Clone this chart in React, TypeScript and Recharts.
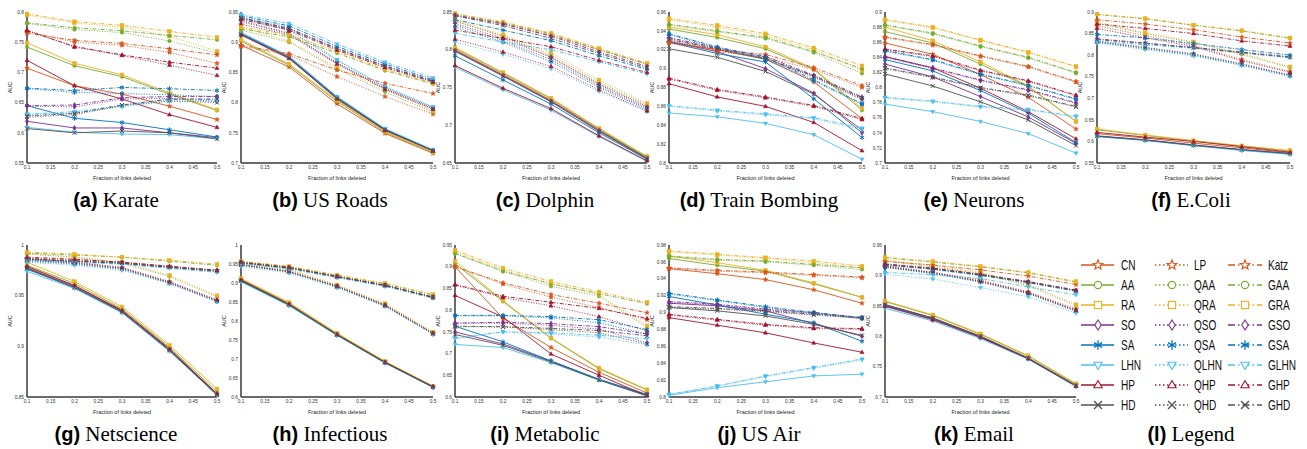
import React from 'react';
import { LineChart, Line, XAxis, YAxis } from 'recharts';

const fractions = [0.1, 0.2, 0.3, 0.4, 0.5];
const xTicks = [0.1, 0.15, 0.2, 0.25, 0.3, 0.35, 0.4, 0.45, 0.5];

const classicNames = ['CN', 'AA', 'RA', 'SO', 'SA', 'LHN', 'HP', 'HD'];
const quantumNames = ['LP', 'QAA', 'QRA', 'QSO', 'QSA', 'QLHN', 'QHP', 'QHD'];
const globalNames = ['Katz', 'GAA', 'GRA', 'GSO', 'GSA', 'GLHN', 'GHP', 'GHD'];

const familyColors = ['#D95319', '#77AC30', '#EDB120', '#7E2F8E', '#0072BD', '#4DBEEE', '#A2142F', '#505050'];
const familyShapes = ['star', 'circle', 'square', 'diamond', 'asterisk', 'tridown', 'triup', 'cross'];

// ---------------- data (AUC values at fractions 0.1..0.5) ----------------
const karate: Record<string, number[]> = {
  CN: [0.707, 0.678, 0.664, 0.644, 0.622], AA: [0.742, 0.711, 0.693, 0.664, 0.637], RA: [0.749, 0.715, 0.696, 0.666, 0.638],
  SO: [0.619, 0.608, 0.608, 0.600, 0.592], SA: [0.645, 0.624, 0.617, 0.605, 0.593], LHN: [0.609, 0.601, 0.598, 0.597, 0.590],
  HP: [0.720, 0.678, 0.656, 0.630, 0.609], HD: [0.607, 0.600, 0.603, 0.600, 0.590],
  LP: [0.768, 0.750, 0.745, 0.733, 0.715], QAA: [0.781, 0.771, 0.766, 0.752, 0.732], QRA: [0.795, 0.782, 0.775, 0.760, 0.735],
  QSO: [0.644, 0.643, 0.656, 0.657, 0.652], QSA: [0.673, 0.667, 0.665, 0.663, 0.660], QLHN: [0.630, 0.633, 0.643, 0.652, 0.652],
  QHP: [0.770, 0.742, 0.728, 0.712, 0.695], QHD: [0.626, 0.630, 0.645, 0.653, 0.650],
  Katz: [0.765, 0.753, 0.748, 0.739, 0.729], GAA: [0.782, 0.774, 0.769, 0.761, 0.754], GRA: [0.797, 0.784, 0.778, 0.768, 0.758],
  GSO: [0.645, 0.646, 0.658, 0.660, 0.660], GSA: [0.674, 0.670, 0.675, 0.673, 0.670], GLHN: [0.631, 0.635, 0.645, 0.655, 0.655],
  GHP: [0.769, 0.743, 0.729, 0.717, 0.707], GHD: [0.628, 0.632, 0.646, 0.656, 0.656],
};
const usRoads: Record<string, number[]> = {
  CN: [0.895, 0.859, 0.798, 0.749, 0.716], AA: [0.902, 0.862, 0.802, 0.751, 0.717], RA: [0.904, 0.864, 0.804, 0.752, 0.718],
  SO: [0.914, 0.875, 0.808, 0.755, 0.721], SA: [0.915, 0.876, 0.809, 0.756, 0.721], LHN: [0.916, 0.877, 0.810, 0.757, 0.722],
  HP: [0.912, 0.873, 0.806, 0.754, 0.720], HD: [0.913, 0.874, 0.807, 0.755, 0.720],
  LP: [0.893, 0.879, 0.843, 0.810, 0.781], QAA: [0.920, 0.900, 0.855, 0.818, 0.784], QRA: [0.925, 0.902, 0.858, 0.822, 0.786],
  QSO: [0.936, 0.915, 0.866, 0.824, 0.790], QSA: [0.940, 0.920, 0.870, 0.826, 0.792], QLHN: [0.942, 0.925, 0.871, 0.827, 0.793],
  QHP: [0.930, 0.912, 0.864, 0.822, 0.789], QHD: [0.934, 0.914, 0.865, 0.823, 0.790],
  Katz: [0.895, 0.881, 0.854, 0.832, 0.815], GAA: [0.922, 0.909, 0.882, 0.853, 0.831], GRA: [0.925, 0.912, 0.885, 0.855, 0.832],
  GSO: [0.941, 0.923, 0.890, 0.861, 0.836], GSA: [0.944, 0.927, 0.893, 0.864, 0.838], GLHN: [0.946, 0.931, 0.897, 0.867, 0.841],
  GHP: [0.938, 0.920, 0.887, 0.858, 0.834], GHD: [0.940, 0.922, 0.889, 0.860, 0.835],
};
const dolphin: Record<string, number[]> = {
  CN: [0.800, 0.767, 0.733, 0.694, 0.657], AA: [0.802, 0.769, 0.735, 0.695, 0.658], RA: [0.803, 0.770, 0.736, 0.696, 0.659],
  SO: [0.799, 0.766, 0.732, 0.693, 0.656], SA: [0.792, 0.760, 0.728, 0.690, 0.655], LHN: [0.777, 0.747, 0.720, 0.685, 0.652],
  HP: [0.779, 0.749, 0.722, 0.686, 0.653], HD: [0.798, 0.765, 0.731, 0.692, 0.656],
  LP: [0.838, 0.818, 0.790, 0.755, 0.725], QAA: [0.838, 0.818, 0.793, 0.757, 0.727], QRA: [0.840, 0.820, 0.796, 0.760, 0.729],
  QSO: [0.835, 0.815, 0.790, 0.754, 0.724], QSA: [0.830, 0.810, 0.784, 0.750, 0.721], QLHN: [0.810, 0.794, 0.775, 0.745, 0.718],
  QHP: [0.814, 0.797, 0.778, 0.747, 0.719], QHD: [0.833, 0.812, 0.787, 0.752, 0.722],
  Katz: [0.845, 0.835, 0.819, 0.800, 0.781], GAA: [0.847, 0.836, 0.821, 0.800, 0.781], GRA: [0.848, 0.837, 0.822, 0.802, 0.782],
  GSO: [0.846, 0.834, 0.818, 0.797, 0.778], GSA: [0.840, 0.826, 0.812, 0.792, 0.774], GLHN: [0.822, 0.810, 0.800, 0.784, 0.768],
  GHP: [0.826, 0.815, 0.804, 0.786, 0.770], GHD: [0.845, 0.832, 0.815, 0.795, 0.776],
};
const trainBombing: Record<string, number[]> = {
  CN: [0.928, 0.920, 0.910, 0.886, 0.847], AA: [0.942, 0.933, 0.921, 0.899, 0.856], RA: [0.944, 0.936, 0.923, 0.900, 0.858],
  SO: [0.929, 0.918, 0.900, 0.874, 0.832], SA: [0.928, 0.916, 0.907, 0.868, 0.827], LHN: [0.853, 0.849, 0.842, 0.830, 0.804],
  HP: [0.884, 0.870, 0.860, 0.843, 0.813], HD: [0.921, 0.912, 0.897, 0.873, 0.835],
  LP: [0.927, 0.918, 0.912, 0.899, 0.880], QAA: [0.946, 0.939, 0.932, 0.917, 0.895], QRA: [0.952, 0.944, 0.935, 0.920, 0.898],
  QSO: [0.932, 0.921, 0.911, 0.892, 0.868], QSA: [0.936, 0.922, 0.910, 0.887, 0.862], QLHN: [0.860, 0.855, 0.851, 0.847, 0.835],
  QHP: [0.889, 0.877, 0.869, 0.860, 0.846], QHD: [0.930, 0.920, 0.910, 0.891, 0.867],
  Katz: [0.928, 0.920, 0.915, 0.901, 0.882], GAA: [0.947, 0.940, 0.933, 0.918, 0.900], GRA: [0.953, 0.946, 0.937, 0.922, 0.903],
  GSO: [0.933, 0.922, 0.913, 0.893, 0.870], GSA: [0.937, 0.923, 0.912, 0.888, 0.863], GLHN: [0.861, 0.856, 0.852, 0.848, 0.837],
  GHP: [0.890, 0.878, 0.870, 0.861, 0.847], GHD: [0.931, 0.921, 0.911, 0.892, 0.869],
};
const neurons: Record<string, number[]> = {
  CN: [0.859, 0.844, 0.817, 0.787, 0.745], AA: [0.874, 0.859, 0.831, 0.801, 0.755], RA: [0.880, 0.862, 0.834, 0.802, 0.755],
  SO: [0.831, 0.814, 0.788, 0.761, 0.726], SA: [0.837, 0.822, 0.796, 0.766, 0.727], LHN: [0.778, 0.768, 0.755, 0.739, 0.713],
  HP: [0.841, 0.826, 0.799, 0.768, 0.732], HD: [0.818, 0.802, 0.781, 0.757, 0.723],
  LP: [0.866, 0.856, 0.841, 0.827, 0.807], QAA: [0.882, 0.871, 0.854, 0.839, 0.819], QRA: [0.889, 0.879, 0.862, 0.846, 0.827],
  QSO: [0.840, 0.825, 0.809, 0.796, 0.779], QSA: [0.848, 0.836, 0.817, 0.802, 0.784], QLHN: [0.786, 0.781, 0.774, 0.770, 0.761],
  QHP: [0.850, 0.841, 0.822, 0.808, 0.789], QHD: [0.825, 0.813, 0.799, 0.789, 0.774],
  Katz: [0.867, 0.857, 0.842, 0.828, 0.808], GAA: [0.883, 0.872, 0.855, 0.840, 0.820], GRA: [0.890, 0.880, 0.863, 0.847, 0.828],
  GSO: [0.841, 0.826, 0.810, 0.797, 0.780], GSA: [0.849, 0.837, 0.818, 0.803, 0.785], GLHN: [0.787, 0.782, 0.775, 0.771, 0.762],
  GHP: [0.851, 0.842, 0.823, 0.809, 0.790], GHD: [0.826, 0.814, 0.800, 0.790, 0.775],
};
const ecoli: Record<string, number[]> = {
  CN: [0.618, 0.608, 0.596, 0.585, 0.574], AA: [0.627, 0.614, 0.601, 0.589, 0.578], RA: [0.629, 0.615, 0.602, 0.590, 0.579],
  SO: [0.613, 0.604, 0.592, 0.581, 0.572], SA: [0.612, 0.603, 0.591, 0.580, 0.571], LHN: [0.611, 0.602, 0.590, 0.579, 0.570],
  HP: [0.621, 0.610, 0.600, 0.588, 0.575], HD: [0.612, 0.603, 0.591, 0.581, 0.572],
  LP: [0.868, 0.845, 0.823, 0.790, 0.762], QAA: [0.874, 0.850, 0.829, 0.802, 0.771], QRA: [0.877, 0.852, 0.831, 0.804, 0.773],
  QSO: [0.832, 0.818, 0.803, 0.780, 0.754], QSA: [0.830, 0.815, 0.800, 0.777, 0.752], QLHN: [0.828, 0.813, 0.798, 0.776, 0.750],
  QHP: [0.862, 0.840, 0.820, 0.787, 0.760], QHD: [0.831, 0.817, 0.802, 0.779, 0.753],
  Katz: [0.882, 0.872, 0.859, 0.842, 0.828], GAA: [0.894, 0.884, 0.869, 0.856, 0.839], GRA: [0.895, 0.885, 0.870, 0.857, 0.840],
  GSO: [0.838, 0.828, 0.818, 0.807, 0.796], GSA: [0.848, 0.840, 0.827, 0.813, 0.800], GLHN: [0.832, 0.824, 0.816, 0.805, 0.794],
  GHP: [0.872, 0.862, 0.850, 0.833, 0.821], GHD: [0.836, 0.827, 0.817, 0.806, 0.795],
};
const netscience: Record<string, number[]> = {
  CN: [0.978, 0.960, 0.936, 0.898, 0.853], AA: [0.980, 0.962, 0.937, 0.899, 0.855], RA: [0.983, 0.964, 0.939, 0.901, 0.858],
  SO: [0.977, 0.959, 0.935, 0.897, 0.853], SA: [0.976, 0.958, 0.934, 0.896, 0.852], LHN: [0.974, 0.957, 0.933, 0.895, 0.852],
  HP: [0.979, 0.960, 0.935, 0.897, 0.853], HD: [0.977, 0.958, 0.934, 0.896, 0.852],
  LP: [0.986, 0.983, 0.977, 0.963, 0.945], QAA: [0.991, 0.988, 0.982, 0.969, 0.949], QRA: [0.992, 0.988, 0.983, 0.970, 0.950],
  QSO: [0.985, 0.982, 0.977, 0.963, 0.945], QSA: [0.984, 0.981, 0.976, 0.962, 0.944], QLHN: [0.983, 0.980, 0.975, 0.962, 0.944],
  QHP: [0.987, 0.983, 0.978, 0.964, 0.946], QHD: [0.985, 0.982, 0.977, 0.963, 0.945],
  Katz: [0.987, 0.985, 0.983, 0.979, 0.975], GAA: [0.992, 0.990, 0.988, 0.984, 0.980], GRA: [0.993, 0.991, 0.988, 0.985, 0.981],
  GSO: [0.986, 0.984, 0.982, 0.978, 0.974], GSA: [0.986, 0.984, 0.982, 0.978, 0.975], GLHN: [0.985, 0.983, 0.981, 0.977, 0.973],
  GHP: [0.988, 0.986, 0.983, 0.979, 0.975], GHD: [0.986, 0.984, 0.982, 0.978, 0.974],
};
const infectious: Record<string, number[]> = {
  CN: [0.908, 0.845, 0.765, 0.692, 0.627], AA: [0.910, 0.847, 0.767, 0.693, 0.628], RA: [0.912, 0.849, 0.768, 0.694, 0.629],
  SO: [0.906, 0.843, 0.764, 0.691, 0.626], SA: [0.905, 0.842, 0.763, 0.690, 0.626], LHN: [0.903, 0.840, 0.762, 0.689, 0.625],
  HP: [0.908, 0.844, 0.764, 0.691, 0.627], HD: [0.906, 0.843, 0.764, 0.691, 0.626],
  LP: [0.948, 0.930, 0.890, 0.840, 0.767], QAA: [0.952, 0.935, 0.894, 0.845, 0.770], QRA: [0.953, 0.936, 0.895, 0.846, 0.771],
  QSO: [0.948, 0.930, 0.891, 0.841, 0.767], QSA: [0.947, 0.929, 0.890, 0.840, 0.766], QLHN: [0.944, 0.926, 0.887, 0.838, 0.764],
  QHP: [0.949, 0.931, 0.892, 0.842, 0.768], QHD: [0.948, 0.930, 0.891, 0.841, 0.767],
  Katz: [0.952, 0.940, 0.916, 0.893, 0.861], GAA: [0.956, 0.943, 0.920, 0.898, 0.868], GRA: [0.957, 0.944, 0.921, 0.899, 0.870],
  GSO: [0.954, 0.940, 0.917, 0.894, 0.863], GSA: [0.953, 0.939, 0.916, 0.893, 0.862], GLHN: [0.951, 0.937, 0.914, 0.891, 0.860],
  GHP: [0.955, 0.941, 0.917, 0.894, 0.862], GHD: [0.954, 0.940, 0.917, 0.894, 0.863],
};
const metabolic: Record<string, number[]> = {
  CN: [0.900, 0.781, 0.714, 0.657, 0.609], AA: [0.907, 0.820, 0.735, 0.665, 0.616], RA: [0.913, 0.822, 0.736, 0.667, 0.617],
  SO: [0.750, 0.722, 0.683, 0.640, 0.604], SA: [0.763, 0.727, 0.683, 0.641, 0.606], LHN: [0.721, 0.714, 0.679, 0.639, 0.602],
  HP: [0.834, 0.784, 0.699, 0.650, 0.603], HD: [0.744, 0.719, 0.681, 0.639, 0.603],
  LP: [0.900, 0.860, 0.830, 0.806, 0.778], QAA: [0.930, 0.889, 0.855, 0.832, 0.760], QRA: [0.935, 0.893, 0.860, 0.836, 0.764],
  QSO: [0.770, 0.770, 0.765, 0.756, 0.725], QSA: [0.787, 0.787, 0.782, 0.771, 0.745], QLHN: [0.735, 0.750, 0.745, 0.738, 0.720],
  QHP: [0.858, 0.829, 0.810, 0.785, 0.752], QHD: [0.762, 0.761, 0.755, 0.748, 0.722],
  Katz: [0.900, 0.863, 0.836, 0.816, 0.794], GAA: [0.931, 0.890, 0.861, 0.838, 0.815], GRA: [0.938, 0.897, 0.866, 0.842, 0.818],
  GSO: [0.770, 0.772, 0.769, 0.762, 0.745], GSA: [0.788, 0.788, 0.785, 0.778, 0.755], GLHN: [0.735, 0.750, 0.748, 0.742, 0.734],
  GHP: [0.859, 0.832, 0.818, 0.804, 0.781], GHD: [0.763, 0.762, 0.758, 0.753, 0.741],
};
const usAir: Record<string, number[]> = {
  CN: [0.952, 0.946, 0.939, 0.927, 0.911], AA: [0.964, 0.956, 0.949, 0.934, 0.918], RA: [0.967, 0.959, 0.950, 0.935, 0.918],
  SO: [0.911, 0.908, 0.902, 0.887, 0.872], SA: [0.919, 0.909, 0.898, 0.888, 0.866], LHN: [0.802, 0.811, 0.818, 0.825, 0.827],
  HP: [0.894, 0.885, 0.876, 0.864, 0.853], HD: [0.906, 0.902, 0.896, 0.886, 0.873],
  LP: [0.952, 0.949, 0.947, 0.944, 0.941], QAA: [0.966, 0.962, 0.960, 0.956, 0.951], QRA: [0.972, 0.968, 0.964, 0.959, 0.953],
  QSO: [0.912, 0.909, 0.903, 0.899, 0.893], QSA: [0.922, 0.914, 0.906, 0.899, 0.893], QLHN: [0.803, 0.813, 0.824, 0.834, 0.844],
  QHP: [0.897, 0.891, 0.885, 0.881, 0.880], QHD: [0.906, 0.904, 0.901, 0.897, 0.893],
  Katz: [0.953, 0.950, 0.948, 0.945, 0.942], GAA: [0.967, 0.963, 0.961, 0.957, 0.953], GRA: [0.973, 0.969, 0.965, 0.961, 0.955],
  GSO: [0.913, 0.910, 0.904, 0.900, 0.894], GSA: [0.923, 0.915, 0.907, 0.900, 0.894], GLHN: [0.803, 0.813, 0.825, 0.835, 0.845],
  GHP: [0.898, 0.892, 0.886, 0.882, 0.881], GHD: [0.907, 0.905, 0.902, 0.898, 0.894],
};
const email: Record<string, number[]> = {
  CN: [0.852, 0.830, 0.800, 0.764, 0.719], AA: [0.857, 0.834, 0.803, 0.767, 0.721], RA: [0.858, 0.835, 0.804, 0.768, 0.722],
  SO: [0.851, 0.829, 0.799, 0.763, 0.718], SA: [0.850, 0.828, 0.798, 0.763, 0.718], LHN: [0.846, 0.825, 0.796, 0.762, 0.717],
  HP: [0.849, 0.827, 0.798, 0.763, 0.718], HD: [0.852, 0.830, 0.800, 0.764, 0.719],
  LP: [0.915, 0.905, 0.893, 0.873, 0.845], QAA: [0.924, 0.914, 0.903, 0.883, 0.850], QRA: [0.926, 0.916, 0.905, 0.885, 0.852],
  QSO: [0.914, 0.904, 0.890, 0.871, 0.842], QSA: [0.913, 0.903, 0.889, 0.870, 0.841], QLHN: [0.902, 0.894, 0.880, 0.865, 0.838],
  QHP: [0.916, 0.905, 0.891, 0.872, 0.843], QHD: [0.914, 0.904, 0.890, 0.871, 0.842],
  Katz: [0.923, 0.917, 0.909, 0.899, 0.885], GAA: [0.929, 0.922, 0.914, 0.904, 0.889], GRA: [0.930, 0.923, 0.915, 0.905, 0.890],
  GSO: [0.918, 0.911, 0.901, 0.889, 0.875], GSA: [0.917, 0.910, 0.900, 0.888, 0.874], GLHN: [0.905, 0.901, 0.895, 0.881, 0.868],
  GHP: [0.919, 0.912, 0.902, 0.890, 0.876], GHD: [0.918, 0.911, 0.901, 0.889, 0.875],
};

// y tick labels per panel
const ticksA = [0.55, 0.6, 0.65, 0.7, 0.75, 0.8];
const ticksB = [0.7, 0.75, 0.8, 0.85, 0.9, 0.95];
const ticksC = [0.65, 0.7, 0.75, 0.8, 0.85];
const ticksD = [0.8, 0.82, 0.84, 0.86, 0.88, 0.9, 0.92, 0.94, 0.96];
const ticksE = [0.7, 0.72, 0.74, 0.76, 0.78, 0.8, 0.82, 0.84, 0.86, 0.88, 0.9];
const ticksF = [0.55, 0.6, 0.65, 0.7, 0.75, 0.8, 0.85, 0.9];
const ticksG = [0.85, 0.9, 0.95, 1];
const ticksH = [0.6, 0.65, 0.7, 0.75, 0.8, 0.85, 0.9, 0.95, 1];
const ticksI = [0.6, 0.65, 0.7, 0.75, 0.8, 0.85, 0.9, 0.95];
const ticksJ = [0.8, 0.82, 0.84, 0.86, 0.88, 0.9, 0.92, 0.94, 0.96, 0.98];
const ticksK = [0.7, 0.75, 0.8, 0.85, 0.9, 0.95];

const colX = [[27, 217], [241, 433], [455, 647], [669, 862], [885, 1076], [1097, 1290]];
const capX = [116, 330, 545, 759, 974, 1191];
const rowY = [[12, 163], [245, 397]];
const capY = [200, 434];

const panels = [
  { letter: '(a)', title: 'Karate', values: karate, ticks: ticksA, col: 0, row: 0 },
  { letter: '(b)', title: 'US Roads', values: usRoads, ticks: ticksB, col: 1, row: 0 },
  { letter: '(c)', title: 'Dolphin', values: dolphin, ticks: ticksC, col: 2, row: 0 },
  { letter: '(d)', title: 'Train Bombing', values: trainBombing, ticks: ticksD, col: 3, row: 0 },
  { letter: '(e)', title: 'Neurons', values: neurons, ticks: ticksE, col: 4, row: 0 },
  { letter: '(f)', title: 'E.Coli', values: ecoli, ticks: ticksF, col: 5, row: 0 },
  { letter: '(g)', title: 'Netscience', values: netscience, ticks: ticksG, col: 0, row: 1 },
  { letter: '(h)', title: 'Infectious', values: infectious, ticks: ticksH, col: 1, row: 1 },
  { letter: '(i)', title: 'Metabolic', values: metabolic, ticks: ticksI, col: 2, row: 1 },
  { letter: '(j)', title: 'US Air', values: usAir, ticks: ticksJ, col: 3, row: 1 },
  { letter: '(k)', title: 'Email', values: email, ticks: ticksK, col: 4, row: 1 },
];

const DOT = '1 1.6';
const DASH = '4 1.6 1 1.6';

const seriesList = [
  ...classicNames.map((n, i) => ({ name: n, color: familyColors[i], shape: familyShapes[i], dash: undefined as any })),
  ...quantumNames.map((n, i) => ({ name: n, color: familyColors[i], shape: familyShapes[i], dash: DOT })),
  ...globalNames.map((n, i) => ({ name: n, color: familyColors[i], shape: familyShapes[i], dash: DASH })),
];

const SANS = "'Liberation Sans', Arial, Helvetica, sans-serif";
const SERIF = "'Liberation Serif', 'Times New Roman', serif";

function Marker({ shape, cx, cy, color, s, hollow }: any) {
  if (cx == null || cy == null) return null;
  const fill = hollow ? '#ffffff' : color;
  const sw = hollow ? 1.1 : 0.5;
  switch (shape) {
    case 'star': {
      const pts: string[] = [];
      for (let k = 0; k < 10; k++) {
        const r = k % 2 === 0 ? s * 1.4 : s * 0.58;
        const a = -Math.PI / 2 + (k * Math.PI) / 5;
        pts.push(`${cx + r * Math.cos(a)},${cy + r * Math.sin(a)}`);
      }
      return <polygon points={pts.join(' ')} fill={fill} stroke={color} strokeWidth={sw} />;
    }
    case 'circle':
      return <circle cx={cx} cy={cy} r={s} fill={fill} stroke={color} strokeWidth={sw} />;
    case 'square':
      return <rect x={cx - s} y={cy - s} width={2 * s} height={2 * s} fill={fill} stroke={color} strokeWidth={sw} />;
    case 'diamond':
      return <polygon points={`${cx},${cy - s * 1.4} ${cx + s * 0.9},${cy} ${cx},${cy + s * 1.4} ${cx - s * 0.9},${cy}`} fill={fill} stroke={color} strokeWidth={sw} />;
    case 'asterisk': {
      const r = s * 1.3;
      const lw = hollow ? 1.3 : 1;
      return (
        <g stroke={color} strokeWidth={lw}>
          <line x1={cx} y1={cy - r} x2={cx} y2={cy + r} />
          <line x1={cx - r * 0.87} y1={cy - r * 0.5} x2={cx + r * 0.87} y2={cy + r * 0.5} />
          <line x1={cx - r * 0.87} y1={cy + r * 0.5} x2={cx + r * 0.87} y2={cy - r * 0.5} />
        </g>
      );
    }
    case 'tridown':
      return <polygon points={`${cx - s * 1.15},${cy - s * 0.75} ${cx + s * 1.15},${cy - s * 0.75} ${cx},${cy + s * 1.25}`} fill={fill} stroke={color} strokeWidth={sw} />;
    case 'triup':
      return <polygon points={`${cx - s * 1.15},${cy + s * 0.75} ${cx + s * 1.15},${cy + s * 0.75} ${cx},${cy - s * 1.25}`} fill={fill} stroke={color} strokeWidth={sw} />;
    case 'cross': {
      const r = s * 1.1;
      const lw = hollow ? 1.3 : 1;
      return (
        <g stroke={color} strokeWidth={lw}>
          <line x1={cx - r} y1={cy - r} x2={cx + r} y2={cy + r} />
          <line x1={cx - r} y1={cy + r} x2={cx + r} y2={cy - r} />
        </g>
      );
    }
    default:
      return null;
  }
}

function Panel({ p }: any) {
  const [x0, x1] = colX[p.col];
  const [y0, y1] = rowY[p.row];
  const mTop = 6;
  const xAxisH = 22;
  const yAxisW = 27;
  const width = x1 - x0 + yAxisW + 8;
  const height = y1 - y0 + mTop + xAxisH;
  const rows = fractions.map((f, i) => {
    const r: any = { x: f };
    seriesList.forEach((s) => {
      r[s.name] = p.values[s.name][i];
    });
    return r;
  });
  const domain = [p.ticks[0], p.ticks[p.ticks.length - 1]];
  const tickStyle = { fontSize: 4.8, fill: '#333', fontFamily: SANS };
  return (
    <div style={{ position: 'absolute', left: x0 - yAxisW, top: y0 - mTop }}>
      <LineChart width={width} height={height} data={rows} margin={{ top: mTop, right: 8, bottom: 0, left: 0 }}>
        <XAxis
          dataKey="x"
          type="number"
          domain={[0.1, 0.5]}
          ticks={xTicks}
          interval={0}
          tickLine={false}
          tickSize={2}
          tickMargin={1}
          height={xAxisH}
          axisLine={{ stroke: '#3a3a3a', strokeWidth: 1.5 }}
          tick={tickStyle}
          tickFormatter={(v: number) => String(v)}
          label={{ value: 'Fraction of links deleted', position: 'insideBottom', offset: 5, fontSize: 5.5, fill: '#222', fontFamily: SANS }}
        />
        <YAxis
          type="number"
          domain={domain}
          ticks={p.ticks}
          interval={0}
          width={yAxisW}
          tickLine={false}
          tickSize={2}
          tickMargin={1}
          axisLine={{ stroke: '#3a3a3a', strokeWidth: 1.5 }}
          tick={tickStyle}
          tickFormatter={(v: number) => String(v)}
          label={{ value: 'AUC', angle: -90, position: 'center', dx: -3.5, fontSize: 5.5, fill: '#222', fontFamily: SANS }}
        />
        {seriesList.map((s) => (
          <Line
            key={s.name}
            dataKey={s.name}
            type="linear"
            stroke={s.color}
            strokeWidth={0.9}
            strokeDasharray={s.dash}
            isAnimationActive={false}
            activeDot={false}
            dot={(d: any) => (
              <Marker key={`${s.name}-${d.index}`} shape={s.shape} cx={d.cx} cy={d.cy} color={s.color} s={1.8} />
            )}
          />
        ))}
      </LineChart>
    </div>
  );
}

function Caption({ letter, title, x, y }: any) {
  return (
    <div
      style={{
        position: 'absolute',
        left: x - 120,
        top: y - 13,
        width: 240,
        textAlign: 'center',
        lineHeight: '26px',
        whiteSpace: 'nowrap',
        color: '#000',
      }}
    >
      <span style={{ fontFamily: SANS, fontWeight: 700, fontSize: 20 }}>{letter}</span>
      <span style={{ fontFamily: SERIF, fontSize: 21 }}> {title}</span>
    </div>
  );
}

function LegendPanel() {
  const left = 1075;
  const top = 250;
  const cols = [
    { names: classicNames, dash: undefined as any, l0: 6, l1: 39, m: 23, t: 46 },
    { names: quantumNames, dash: '1.5 2.5', l0: 80, l1: 113, m: 97, t: 119 },
    { names: globalNames, dash: '7 3 1.5 3', l0: 153, l1: 187, m: 170, t: 193 },
  ];
  return (
    <svg style={{ position: 'absolute', left, top }} width={232} height={170}>
      {cols.map((c, ci) =>
        c.names.map((n, i) => {
          const y = 15 + 20 * i;
          const color = familyColors[i];
          return (
            <g key={`${ci}-${n}`}>
              <line x1={c.l0} y1={y} x2={c.l1} y2={y} stroke={color} strokeWidth={1.3} strokeDasharray={c.dash} />
              <Marker shape={familyShapes[i]} cx={c.m} cy={y} color={color} s={3.6} hollow />
              <text
                transform={`translate(${c.t},${y + 5}) scale(0.72,1)`}
                fontSize={14}
                fontFamily={SANS}
                fill="#111"
              >
                {n}
              </text>
            </g>
          );
        })
      )}
    </svg>
  );
}

export default function App() {
  return (
    <div style={{ position: 'absolute', left: 0, top: 0, width: 1307, height: 449, background: '#fff', overflow: 'hidden' }}>
      {panels.map((p) => (
        <Panel key={p.letter} p={p} />
      ))}
      {panels.map((p) => (
        <Caption key={`c${p.letter}`} letter={p.letter} title={p.title} x={capX[p.col]} y={capY[p.row]} />
      ))}
      <LegendPanel />
      <Caption letter="(l)" title="Legend" x={capX[5]} y={capY[1]} />
    </div>
  );
}
